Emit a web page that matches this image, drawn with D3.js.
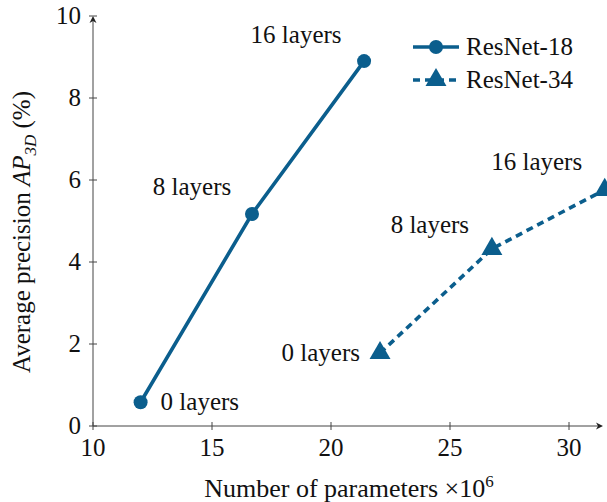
<!DOCTYPE html>
<html><head><meta charset="utf-8">
<script src="https://cdn.jsdelivr.net/npm/d3@7"></script>
<style>body{margin:0;background:#fff}svg{display:block}text{font-family:"Liberation Serif","DejaVu Serif",serif;fill:#111}</style>
</head><body>
<script>
const xTicks = [10, 15, 20, 25, 30];
const yTicks = [0, 2, 4, 6, 8, 10];
const r18Params = [12.0, 16.68, 21.39];
const r18AP = [0.58, 5.17, 8.9];
const r34Params = [22.06, 26.76, 31.5];
const r34AP = [1.78, 4.32, 5.76];
const layerLabels = ["0 layers", "8 layers", "16 layers"];
const seriesNames = ["ResNet-18", "ResNet-34"];

const W = 607, H = 502, color = "#0b5e8d";
const FS = 25, TFS = 25, LW = 3.6;
const svg = d3.select("body").append("svg").attr("width", W).attr("height", H);
const x = d3.scaleLinear().domain([10, 30]).range([93, 569]);
const y = d3.scaleLinear().domain([0, 10]).range([426, 16]);

// axes
const axCol = "#444";
const gx = svg.append("g");
gx.append("line").attr("x1", x(10)).attr("x2", 600).attr("y1", y(0)).attr("y2", y(0)).attr("stroke", axCol);
gx.append("path").attr("d", `M603,${y(0)} l-7,-3.5 l2,3.5 l-2,3.5 z`).attr("fill", "#222");
xTicks.forEach(t => {
  gx.append("line").attr("x1", x(t)).attr("x2", x(t)).attr("y1", y(0) - 4).attr("y2", y(0) + 4).attr("stroke", axCol);
  gx.append("text").attr("x", x(t)).attr("y", y(0) + 30).attr("text-anchor", "middle").attr("font-size", TFS).text(t);
});
const gy = svg.append("g");
gy.append("line").attr("x1", x(10)).attr("x2", x(10)).attr("y1", y(0)).attr("y2", 20).attr("stroke", axCol);
gy.append("path").attr("d", `M${x(10)},16 l-3.5,7 l3.5,-2 l3.5,2 z`).attr("fill", "#222");
yTicks.forEach(t => {
  gy.append("line").attr("x1", x(10) - 4).attr("x2", x(10) + 4).attr("y1", y(t)).attr("y2", y(t)).attr("stroke", axCol);
  gy.append("text").attr("x", x(10) - 12).attr("y", y(t) + 8).attr("text-anchor", "end").attr("font-size", TFS).text(t);
});

// axis titles
const xl = svg.append("text").attr("x", 349).attr("y", 497).attr("text-anchor", "middle").attr("font-size", 26);
xl.append("tspan").text("Number of parameters ×10");
xl.append("tspan").attr("dy", -10).attr("font-size", 17).text("6");
const yl = svg.append("text").attr("transform", "translate(30,232) rotate(-90)").attr("text-anchor", "middle").attr("font-size", FS);
yl.append("tspan").text("Average precision ");
yl.append("tspan").attr("font-style", "italic").text("AP");
yl.append("tspan").attr("font-style", "italic").attr("font-size", 17).attr("dy", 6).text("3D");
yl.append("tspan").attr("dy", -6).text(" (%)");

const line = d3.line().x(d => x(d[0])).y(d => y(d[1]));
const d18 = r18Params.map((p, i) => [p, r18AP[i]]);
const d34 = r34Params.map((p, i) => [p, r34AP[i]]);

svg.append("path").datum(d18).attr("d", line).attr("fill", "none").attr("stroke", color).attr("stroke-width", LW);
svg.append("path").datum(d34).attr("d", line).attr("fill", "none").attr("stroke", color).attr("stroke-width", LW).attr("stroke-dasharray", "7,5");

svg.selectAll(".c").data(d18).enter().append("circle").attr("cx", d => x(d[0])).attr("cy", d => y(d[1])).attr("r", 7).attr("fill", color);
const tri = d3.symbol().type(d3.symbolTriangle).size(190);
svg.selectAll(".t").data(d34).enter().append("path").attr("d", tri).attr("transform", d => `translate(${x(d[0])},${y(d[1])})`).attr("fill", color);

// point labels
const lab18 = [[20, 8, "start"], [-60, -19, "middle"], [-68, -18, "middle"]];
d18.forEach((d, i) => {
  svg.append("text").attr("x", x(d[0]) + lab18[i][0]).attr("y", y(d[1]) + lab18[i][1]).attr("text-anchor", lab18[i][2]).attr("font-size", FS).text(layerLabels[i]);
});
const lab34 = [[-20, 8, "end"], [-62, -16, "middle"], [-68, -20, "middle"]];
d34.forEach((d, i) => {
  svg.append("text").attr("x", x(d[0]) + lab34[i][0]).attr("y", y(d[1]) + lab34[i][1]).attr("text-anchor", lab34[i][2]).attr("font-size", FS).text(layerLabels[i]);
});

// legend
const lg = svg.append("g");
[0, 1].forEach(i => {
  const ly = 47 + i * 33;
  lg.append("line").attr("x1", 413).attr("x2", 459).attr("y1", ly).attr("y2", ly).attr("stroke", color).attr("stroke-width", LW).attr("stroke-dasharray", i ? "7,5" : null);
  if (i === 0) lg.append("circle").attr("cx", 436).attr("cy", ly).attr("r", 7).attr("fill", color);
  else lg.append("path").attr("d", tri).attr("transform", `translate(436,${ly})`).attr("fill", color);
  lg.append("text").attr("x", 466).attr("y", ly + 8).attr("font-size", FS).text(seriesNames[i]);
});
</script>
</body></html>
